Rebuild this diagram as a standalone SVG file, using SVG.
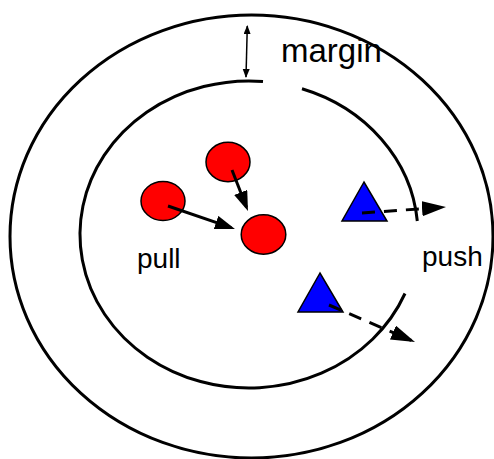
<svg xmlns="http://www.w3.org/2000/svg" width="494" height="459" viewBox="0 0 494 459">
<style>
.ring{fill:none;stroke:#000;stroke-width:3;stroke-linecap:butt}
.red{fill:#ff0000;stroke:#000;stroke-width:1.5}
.blue{fill:#0000ff;stroke:#000;stroke-width:1.5;stroke-linejoin:miter}
.lbl{font-family:"Liberation Sans",Arial,sans-serif;fill:#000}
.solid{stroke:#000;stroke-width:3;fill:none}
.dash{stroke:#000;stroke-width:3;fill:none;stroke-dasharray:13 9}
.thin{stroke:#000;stroke-width:1.5;fill:none}
</style>
<defs>
<marker id="ah" markerUnits="userSpaceOnUse" markerWidth="22" markerHeight="16" refX="16" refY="7" orient="auto">
<path d="M0,0 L20,7 L0,14 z" fill="#000"/>
</marker>
<marker id="ahd" markerUnits="userSpaceOnUse" markerWidth="26" markerHeight="18" refX="20" refY="7.5" orient="auto">
<path d="M0,0 L24,7.5 L0,15 z" fill="#000"/>
</marker>
<marker id="sm" markerUnits="userSpaceOnUse" markerWidth="10" markerHeight="8" refX="8" refY="3.5" orient="auto-start-reverse">
<path d="M0,0 L9,3.5 L0,7 z" fill="#000"/>
</marker>
</defs>
<g id="outer-ring"><ellipse class="ring" cx="251.5" cy="236.5" rx="241.5" ry="221.5"/></g>
<g id="inner-ring">
<path class="ring" d="M302,88.7 A169,153.5 0 0 1 417.3,221"/>
<path class="ring" d="M405,293.5 A169,153.5 0 1 1 263,81.5"/>
</g>
<g id="margin-label"><text class="lbl" x="281" y="62" font-size="33">margin</text></g>
<g id="pull-label"><text class="lbl" x="137" y="268" font-size="28">pull</text></g>
<g id="push-label"><text class="lbl" x="422" y="266" font-size="28">push</text></g>
<g id="circle-a"><ellipse class="red" cx="163" cy="201" rx="22" ry="19.5"/></g>
<g id="circle-b"><ellipse class="red" cx="228" cy="162" rx="22" ry="19.7"/></g>
<g id="circle-c"><ellipse class="red" cx="263.5" cy="234.5" rx="22.3" ry="19.7"/></g>
<g id="triangle-a"><polygon class="blue" points="364,182 342,221 387,221"/></g>
<g id="triangle-b"><polygon class="blue" points="320,273 298,312 343,312"/></g>
<g id="connectors">
<line class="thin" x1="247.3" y1="26" x2="246" y2="77" marker-start="url(#sm)" marker-end="url(#sm)"/>
<line class="solid" x1="168" y1="206" x2="231.2" y2="227.7" marker-end="url(#ah)"/>
<line class="solid" x1="232" y1="170" x2="246.5" y2="207.3" marker-end="url(#ah)"/>
<line class="dash" x1="362" y1="213" x2="442" y2="207.3" marker-end="url(#ahd)"/>
<line class="dash" x1="329" y1="305" x2="411.3" y2="340.4" marker-end="url(#ahd)"/>
</g>
</svg>
